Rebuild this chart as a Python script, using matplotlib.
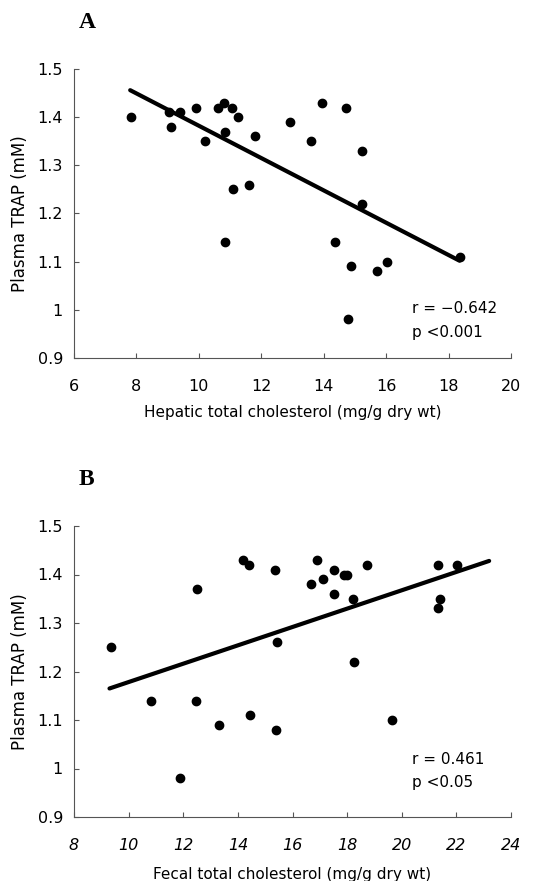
import matplotlib
matplotlib.use('Agg')
import matplotlib.pyplot as plt

# panel A: hepatic total cholesterol vs plasma TRAP
hep_x = [7.82, 9.05, 9.40, 9.10, 9.90, 10.21, 10.62, 10.81, 11.06, 10.85, 11.26,
         10.85, 11.10, 11.62, 11.79, 12.92, 13.59, 13.94, 14.72, 14.37, 14.88,
         14.79, 15.24, 15.24, 15.72, 16.02, 18.36]
hep_y = [1.40, 1.41, 1.41, 1.38, 1.42, 1.35, 1.42, 1.43, 1.42, 1.37, 1.40,
         1.14, 1.25, 1.26, 1.36, 1.39, 1.35, 1.43, 1.42, 1.14, 1.09,
         0.98, 1.33, 1.22, 1.08, 1.10, 1.11]
hep_fit_x = [7.8, 18.35]
hep_fit_y = [1.456, 1.102]

# panel B: fecal total cholesterol vs plasma TRAP
fec_x = [9.35, 10.82, 11.88, 12.50, 12.48, 13.31, 14.18, 14.39, 14.45, 15.36,
         15.44, 15.38, 16.68, 16.89, 17.11, 17.53, 17.52, 17.89, 18.01, 18.22,
         18.26, 18.72, 19.65, 21.34, 21.32, 21.39, 22.01]
fec_y = [1.25, 1.14, 0.98, 1.37, 1.14, 1.09, 1.43, 1.42, 1.11, 1.41,
         1.26, 1.08, 1.38, 1.43, 1.39, 1.41, 1.36, 1.40, 1.40, 1.35,
         1.22, 1.42, 1.10, 1.42, 1.33, 1.35, 1.42]
fec_fit_x = [9.3, 23.2]
fec_fit_y = [1.165, 1.428]

yticks = [0.9, 1.0, 1.1, 1.2, 1.3, 1.4, 1.5]
ytick_labels = ['0.9', '1', '1.1', '1.2', '1.3', '1.4', '1.5']

plt.rcParams['font.family'] = ['DejaVu Sans']

fig = plt.figure(figsize=(5.57, 8.81), dpi=100)

W, H = 557, 881


def make_axes(top, bottom):
    return fig.add_axes([74 / W, 1 - bottom / H, (511 - 74) / W, (bottom - top) / H])


def style(ax, xlim, xticks, xlabel, letter, rtxt, ptxt, ry, py, xlab_y, italic=False):
    ax.set_xlim(*xlim)
    ax.set_ylim(0.9, 1.5)
    ax.set_xticks(xticks)
    ax.set_xticklabels([str(t) for t in xticks], style='italic' if italic else 'normal')
    ax.set_yticks(yticks)
    ax.set_yticklabels(ytick_labels)
    for s in ['top', 'right']:
        ax.spines[s].set_visible(False)
    for s in ['left', 'bottom']:
        ax.spines[s].set_color('#555555')
        ax.spines[s].set_linewidth(0.8)
    ax.tick_params(axis='x', direction='in', length=3.5, width=0.8, color='#555555',
                   pad=15, labelsize=11.5)
    ax.tick_params(axis='y', direction='in', length=3.5, width=0.8, color='#555555',
                   pad=8, labelsize=11.5)
    ax.set_xlabel(xlabel, fontsize=11, va='top')
    ax.xaxis.set_label_coords(0.5, xlab_y)
    ax.set_ylabel('Plasma TRAP (mM)', fontsize=12)
    ax.yaxis.set_label_coords(-0.103, 0.5)
    ax.text(0.773, ry, rtxt, transform=ax.transAxes, fontsize=11, va='center')
    ax.text(0.773, py, ptxt, transform=ax.transAxes, fontsize=11, va='center')
    ax.text(0.01, 1.16, letter, transform=ax.transAxes, fontsize=17,
            fontweight='bold', family='Liberation Serif', va='center')


axA = make_axes(69, 358)
axA.scatter(hep_x, hep_y, s=36, color='black', zorder=3)
axA.plot(hep_fit_x, hep_fit_y, color='black', lw=3, solid_capstyle='round')
style(axA, (6, 20), [6, 8, 10, 12, 14, 16, 18, 20],
      'Hepatic total cholesterol (mg/g dry wt)', 'A',
      'r = \u22120.642', 'p <0.001', 0.170, 0.087, -0.163)

axB = make_axes(526, 817)
axB.scatter(fec_x, fec_y, s=36, color='black', zorder=3)
axB.plot(fec_fit_x, fec_fit_y, color='black', lw=3, solid_capstyle='round')
style(axB, (8, 24), [8, 10, 12, 14, 16, 18, 20, 22, 24],
      'Fecal total cholesterol (mg/g dry wt)', 'B',
      'r = 0.461', 'p <0.05', 0.196, 0.117, -0.172, italic=True)

fig.savefig('out.png', dpi=100)
